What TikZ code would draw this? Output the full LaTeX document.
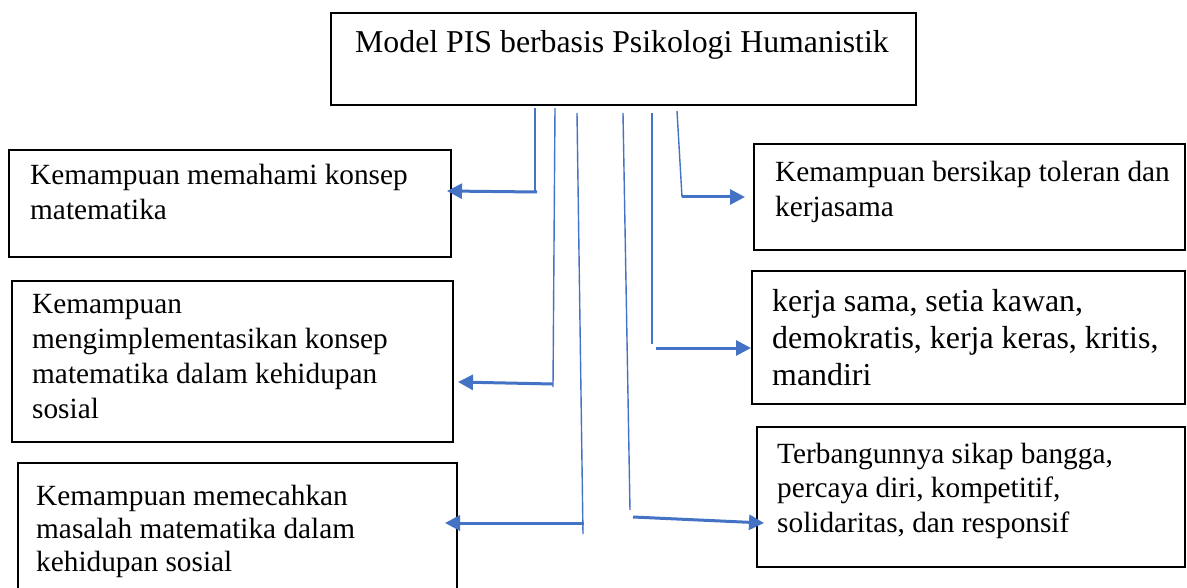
\documentclass[tikz,border=0pt]{standalone}
\usepackage{fontspec}
\setmainfont{Liberation Serif}
\usetikzlibrary{arrows.meta}
\definecolor{lnblue}{HTML}{4472C4}
\begin{document}
\begin{tikzpicture}[x=1pt,y=-1pt,
  box/.style={draw=black, line width=1.1pt, rectangle, inner sep=0pt, outer sep=0pt, anchor=north west},
  vline/.style={draw=lnblue, line width=1.4pt},
  harrow/.style={draw=lnblue, line width=3pt, -{Triangle[length=15pt,width=15pt]}},
  body/.style={anchor=base west, inner sep=0pt, font=\fontsize{29.3}{34}\selectfont},
  bigbody/.style={anchor=base west, inner sep=0pt, font=\fontsize{31.9}{38}\selectfont}]
\useasboundingbox (0,0) rectangle (1187,588);
\clip (0,0) rectangle (1187,588);
\fill[white] (0,0) rectangle (1187,588);

% boxes
\node[box, minimum width=585pt, minimum height=92pt] (top) at (331,13) {};
\node[box, minimum width=442pt, minimum height=107pt] (L1) at (9,150) {};
\node[box, minimum width=441pt, minimum height=161pt] (L2) at (12,281) {};
\node[box, minimum width=439pt, minimum height=160pt] (L3) at (18,463) {};
\node[box, minimum width=431pt, minimum height=106pt] (R1) at (754,144) {};
\node[box, minimum width=433pt, minimum height=133pt] (R2) at (752,271) {};
\node[box, minimum width=428pt, minimum height=140pt] (R3) at (757,427) {};

% texts
\node[anchor=base, inner sep=0pt, font=\fontsize{31.8}{38}\selectfont] (ttop) at (622,53) {Model PIS berbasis Psikologi Humanistik};
\node[body] (tL1) at (30,185) {\vtop{\baselineskip=35pt\hbox{Kemampuan memahami konsep}\hbox{matematika}}};
\node[body] (tL2) at (32,314) {\vtop{\baselineskip=35pt\hbox{Kemampuan}\hbox{mengimplementasikan konsep}\hbox{matematika dalam kehidupan}\hbox{sosial}}};
\node[body] (tL3) at (36,505) {\vtop{\baselineskip=33pt\hbox{Kemampuan memecahkan}\hbox{masalah matematika dalam}\hbox{kehidupan sosial}}};
\node[body] (tR1) at (775,182) {\vtop{\baselineskip=35pt\hbox{Kemampuan bersikap toleran dan}\hbox{kerjasama}}};
\node[bigbody] (tR2) at (772,312) {\vtop{\baselineskip=37pt\hbox{kerja sama, setia kawan,}\hbox{demokratis, kerja keras, kritis,}\hbox{mandiri}}};
\node[body] (tR3) at (777,463) {\vtop{\baselineskip=34.5pt\hbox{Terbangunnya sikap bangga,}\hbox{percaya diri, kompetitif,}\hbox{solidaritas, dan responsif}}};

% connector points
\coordinate (v1a) at (535,108); \coordinate (v1b) at (535,192);
\coordinate (v2a) at (555,108); \coordinate (v2b) at (553,387);
\coordinate (v3a) at (577,113); \coordinate (v3b) at (583,534);
\coordinate (v4a) at (623,113); \coordinate (v4b) at (630,510);
\coordinate (v5a) at (652,113); \coordinate (v5b) at (652,344);
\coordinate (v6a) at (677,111); \coordinate (v6b) at (682,197);

\coordinate (h1s) at (537,192); \coordinate (h1e) at (447,191);
\coordinate (h2s) at (553,384); \coordinate (h2e) at (458,382);
\coordinate (h3s) at (584,523); \coordinate (h3e) at (445,523);
\coordinate (h4s) at (633,517); \coordinate (h4e) at (764,523);
\coordinate (h5s) at (656,348); \coordinate (h5e) at (751,348);
\coordinate (h6s) at (682,197); \coordinate (h6e) at (745,197);

% vertical stems
\draw[vline] (v1a) -- (v1b);
\draw[vline] (v2a) -- (v2b);
\draw[vline] (v3a) -- (v3b);
\draw[vline] (v4a) -- (v4b);
\draw[vline] (v5a) -- (v5b);
\draw[vline] (v6a) -- (v6b);

% horizontal arrows
\draw[harrow] (h1s) -- (h1e);
\draw[harrow] (h2s) -- (h2e);
\draw[harrow] (h3s) -- (h3e);
\draw[harrow] (h4s) -- (h4e);
\draw[harrow] (h5s) -- (h5e);
\draw[harrow] (h6s) -- (h6e);
\end{tikzpicture}
\end{document}
